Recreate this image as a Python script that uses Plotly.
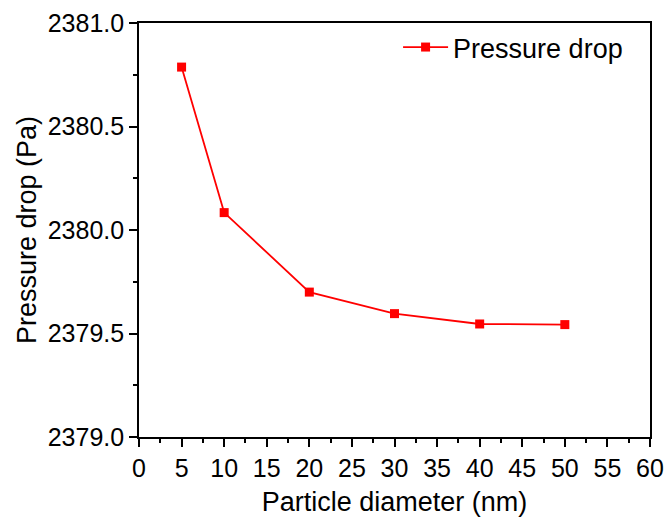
import plotly.graph_objects as go

# Particle diameter (nm) vs. pressure drop (Pa)
diameter = [5, 10, 20, 30, 40, 50]
pressure_drop = [2380.787, 2380.084, 2379.700, 2379.596, 2379.546, 2379.543]

FONT = "Liberation Sans, Arial, sans-serif"
RED = "#ff0000"

fig = go.Figure()
fig.add_trace(go.Scatter(
    x=diameter, y=pressure_drop,
    mode="lines+markers",
    name="Pressure drop",
    line=dict(color=RED, width=1.8),
    marker=dict(symbol="square", size=9, color=RED),
))

axis_common = dict(
    showline=True, linecolor="black", linewidth=1.6, mirror=True,
    ticks="outside", ticklen=8, tickwidth=1.6, tickcolor="black",
    showgrid=False, zeroline=False, automargin=False,
    tickfont=dict(family=FONT, size=25, color="black"),
)

fig.update_layout(
    width=665, height=517,
    margin=dict(l=139, r=15, t=23, b=80),
    paper_bgcolor="white", plot_bgcolor="white",
    font=dict(family=FONT, color="black"),
    showlegend=True,
    legend=dict(x=0.507, y=1.0, xanchor="left", yanchor="top", itemwidth=45,
                bgcolor="rgba(0,0,0,0)", font=dict(family=FONT, size=27)),
    xaxis=dict(
        range=[0, 60], dtick=5, tick0=0,
        minor=dict(ticks="outside", ticklen=4, dtick=2.5, tickwidth=1.6, tickcolor="black"),
        title=dict(text="Particle diameter (nm)", font=dict(family=FONT, size=27), standoff=14),
        **axis_common,
    ),
    yaxis=dict(
        range=[2379.0, 2381.0], dtick=0.5, tick0=2379.0, tickformat=".1f",
        minor=dict(ticks="outside", ticklen=4, dtick=0.25, tickwidth=1.6, tickcolor="black"),
        title=dict(text="Pressure drop (Pa)", font=dict(family=FONT, size=27), standoff=3),
        **axis_common,
    ),
)

fig.write_html("out.html")
